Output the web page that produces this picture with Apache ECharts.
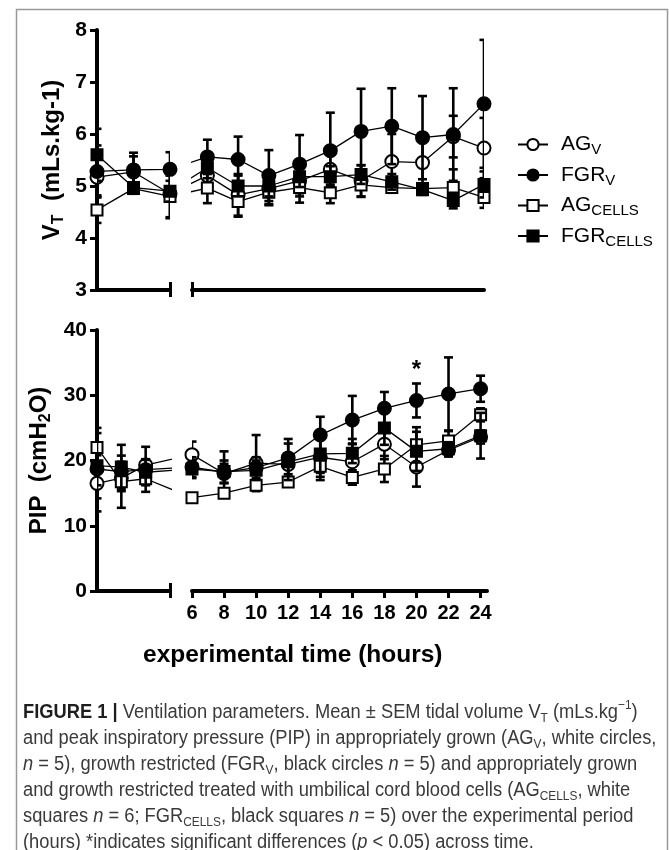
<!DOCTYPE html>
<html>
<head>
<meta charset="utf-8">
<script src="https://cdn.jsdelivr.net/npm/echarts@6/dist/echarts.min.js"></script>
<style>
  html, body { margin: 0; padding: 0; background: #fff; }
  #chart { width: 669px; height: 850px; }
</style>
</head>
<body>
<div id="chart"></div>
<script>
// three unlabelled early readings, then every 2 h from 6 to 24 h
const earlySteps = [0, 1, 2]
const hours = [6, 8, 10, 12, 14, 16, 18, 20, 22, 24]

// VT (mLs.kg-1): 3 early + 10 hourly means and SEM
const vtAGv = [5.17, 5.27, 4.85, 5.20, 4.83, 4.95, 5.10, 5.32, 5.10, 5.47, 5.45, 5.95, 5.73]
const vtAGvSem = [0.35, 0.30, 0.47, 0.25, 0.40, 0.30, 0.30, 0.30, 0.30, 0.53, 0.50, 0.40, 0.58]
const vtFGRv = [5.28, 5.31, 5.32, 5.56, 5.51, 5.20, 5.42, 5.68, 6.05, 6.15, 5.93, 5.99, 6.58]
const vtFGRvSem = [0.50, 0.33, 0.33, 0.33, 0.44, 0.49, 0.56, 0.73, 0.82, 0.73, 0.80, 0.89, 1.23]
const vtAGcells = [4.54, 4.95, 4.80, 4.96, 4.70, 4.88, 4.97, 4.87, 5.02, 4.97, 4.95, 4.97, 4.78]
const vtAGcellsSem = [0.25, 0.10, 0.40, 0.29, 0.29, 0.25, 0.29, 0.20, 0.23, 0.10, 0.10, 0.35, 0.20]
const vtFGRcells = [5.60, 4.97, 4.90, 5.35, 5.00, 5.00, 5.18, 5.18, 5.22, 5.08, 4.93, 4.72, 5.03]
const vtFGRcellsSem = [0.50, 0.10, 0.20, 0.20, 0.20, 0.20, 0.20, 0.20, 0.18, 0.15, 0.10, 0.15, 0.25]

// PIP (cmH2O)
const pipAGv = [16.5, 17.3, 19.3, 20.9, 18.0, 19.6, 19.4, 20.5, 19.8, 22.5, 19.0, 21.6, 23.6]
const pipAGvSem = [4.3, 2.0, 2.8, 2.0, 1.5, 4.3, 1.5, 3.5, 3.5, 2.3, 3.0, 1.0, 1.0]
const pipFGRv = [18.7, 18.3, 18.6, 19.0, 18.2, 18.9, 20.4, 23.9, 26.2, 28.0, 29.2, 30.2, 31.0]
const pipFGRvSem = [2.5, 1.5, 1.5, 1.5, 3.2, 1.6, 2.9, 2.8, 3.7, 2.5, 2.6, 5.6, 2.0]
const pipAGcells = [22.0, 16.75, 17.2, 14.3, 15.0, 16.2, 16.7, 19.1, 17.4, 18.7, 22.4, 23.0, 27.0]
const pipAGcellsSem = [3.0, 4.0, 2.0, 0.5, 0.5, 0.5, 0.5, 1.0, 1.1, 2.0, 2.7, 1.5, 1.0]
const pipFGRcells = [19.2, 19.0, 18.2, 18.7, 18.3, 18.5, 19.8, 21.0, 21.1, 25.0, 21.4, 21.8, 23.8]
const pipFGRcellsSem = [5.0, 3.4, 2.0, 1.4, 1.7, 1.5, 2.8, 3.5, 1.5, 2.6, 3.0, 1.0, 3.5]

// significant time point (PIP, FGRv)
const sigHours = [20]

const vtTicks = [3, 4, 5, 6, 7, 8]
const pipTicks = [0, 10, 20, 30, 40]

const groups = ['AGv', 'FGRv', 'AGcells', 'FGRcells']
const legendText = {
  AGv: '{m|AG}{s|V}',
  FGRv: '{m|FGR}{s|V}',
  AGcells: '{m|AG}{s|CELLS}',
  FGRcells: '{m|FGR}{s|CELLS}'
}
const marker = {
  AGv: { symbol: 'circle', size: 13, fill: '#fff' },
  FGRv: { symbol: 'circle', size: 13, fill: '#000' },
  AGcells: { symbol: 'rect', size: 11, fill: '#fff' },
  FGRcells: { symbol: 'rect', size: 11, fill: '#000' }
}

const captionLines = [
  '{b|FIGURE 1 |} Ventilation parameters. Mean ± SEM tidal volume V{s|T} (mLs.kg{p|−1})',
  'and peak inspiratory pressure (PIP) in appropriately grown (AG{s|V}, white circles,',
  '{i|n} = 5), growth restricted (FGR{s|V}, black circles {i|n} = 5) and appropriately grown',
  'and growth restricted treated with umbilical cord blood cells (AG{s|CELLS}, white',
  'squares {i|n} = 6; FGR{s|CELLS}, black squares {i|n} = 5) over the experimental period',
  '(hours) *indicates significant differences ({i|p} < 0.05) across time.'
]

const panels = [
  { xe: 0, xh: 1, ye: 0, yh: 1,
    means: { AGv: vtAGv, FGRv: vtFGRv, AGcells: vtAGcells, FGRcells: vtFGRcells },
    sems: { AGv: vtAGvSem, FGRv: vtFGRvSem, AGcells: vtAGcellsSem, FGRcells: vtFGRcellsSem } },
  { xe: 2, xh: 3, ye: 2, yh: 3,
    means: { AGv: pipAGv, FGRv: pipFGRv, AGcells: pipAGcells, FGRcells: pipFGRcells },
    sems: { AGv: pipAGvSem, FGRv: pipFGRvSem, AGcells: pipAGcellsSem, FGRcells: pipFGRcellsSem } }
]

const FONT = 'Liberation Sans, Arial, sans-serif'
const chart = echarts.init(document.getElementById('chart'))

function errorBars(pts, sems, xi, yi, z) {
  return {
    type: 'custom', xAxisIndex: xi, yAxisIndex: yi, z, silent: true, clip: true,
    encode: { x: 0, y: [1, 2] },
    data: pts.map(([x, v], i) => [x, v - sems[i], v + sems[i]]),
    renderItem(params, api) {
      const lo = api.coord([api.value(0), api.value(1)])
      const hi = api.coord([api.value(0), api.value(2)])
      const cap = 4.5
      const st = { stroke: '#000', lineWidth: 2.6 }
      return { type: 'group', children: [
        { type: 'line', shape: { x1: lo[0], y1: lo[1], x2: hi[0], y2: hi[1] }, style: st },
        { type: 'line', shape: { x1: lo[0] - cap, y1: lo[1], x2: lo[0] + cap, y2: lo[1] }, style: st },
        { type: 'line', shape: { x1: hi[0] - cap, y1: hi[1], x2: hi[0] + cap, y2: hi[1] }, style: st }
      ] }
    }
  }
}

function lineSeries(name, data, xi, yi, z) {
  const mk = marker[name]
  return {
    type: 'line', name, xAxisIndex: xi, yAxisIndex: yi, z, data, clip: true,
    symbol: mk.symbol, symbolSize: mk.size, showAllSymbol: true,
    itemStyle: { color: mk.fill, borderColor: '#000', borderWidth: 2 },
    lineStyle: { color: '#000', width: 1.3 },
    emphasis: { disabled: true }
  }
}

function buildSeries(bridges) {
  const out = []
  panels.forEach((p, pi) => {
    groups.forEach((g, gi) => {
      const m = p.means[g], s = p.sems[g]
      const n0 = earlySteps.length
      const earlyPts = earlySteps.map((x, i) => [x, m[i]])
      const hourPts = hours.map((h, i) => [h, m[i + n0]])
      const b = bridges ? bridges[pi] : null
      // neighbour point across the axis break, so the lines run out to the break
      const earlyData = b ? earlyPts.concat([[b.next, m[n0]]]) : earlyPts
      const hourData = b ? [[b.prev, m[n0 - 1]]].concat(hourPts) : hourPts
      const z = 10 + gi * 2
      out.push(errorBars(earlyPts, s.slice(0, n0), p.xe, p.ye, z))
      out.push(errorBars(hourPts, s.slice(n0), p.xh, p.yh, z))
      out.push(lineSeries(g, earlyData, p.xe, p.ye, z + 1))
      const hs = lineSeries(g, hourData, p.xh, p.yh, z + 1)
      if (pi === 1 && g === 'FGRv') {
        hs.markPoint = {
          symbol: 'circle', symbolSize: 1, silent: true,
          itemStyle: { color: 'rgba(0,0,0,0)' },
          label: { show: true, formatter: '*', position: 'inside', offset: [0, -13],
            color: '#000', fontSize: 24, fontWeight: 'bold', fontFamily: FONT },
          data: sigHours.map(h => {
            const i = hours.indexOf(h) + n0
            return { coord: [h, m[i] + s[i]] }
          })
        }
      }
      out.push(hs)
    })
  })
  return out
}

const axisLine = { show: true, onZero: false, lineStyle: { color: '#000', width: 4 } }
const tickStyle = { color: '#000', width: 3 }
const yLabel = { color: '#000', fontSize: 21, fontWeight: 'bold', fontFamily: FONT, margin: 10 }

// upward half of the break marks: a tick-only axis laid on the bottom edge
function breakMarks(gridIndex, min, max, values, height) {
  return { type: 'value', gridIndex, min, max, position: 'top', offset: -height,
    axisLine: { show: false }, splitLine: { show: false }, axisLabel: { show: false },
    axisTick: { customValues: values, length: 8, lineStyle: tickStyle } }
}

const nameRich = {
  b: { fontSize: 24, fontWeight: 'bold', fontFamily: FONT, color: '#000', lineHeight: 30 },
  sub: { fontSize: 16, fontWeight: 'bold', fontFamily: FONT, color: '#000', lineHeight: 20, verticalAlign: 'bottom' }
}

const capFont = 'Liberation Sans, Arial, sans-serif'
const capRich = {
  b: { fontSize: 20, fontWeight: 'bold', fontFamily: capFont, fill: '#1e1e1e', lineHeight: 26 },
  i: { fontSize: 20, fontStyle: 'italic', fontFamily: capFont, fill: '#3a3a3a', lineHeight: 26 },
  s: { fontSize: 13, fontFamily: capFont, fill: '#3a3a3a', lineHeight: 16, verticalAlign: 'bottom' },
  p: { fontSize: 13, fontFamily: capFont, fill: '#3a3a3a', lineHeight: 16, verticalAlign: 'top' }
}

const option = {
  animation: false,
  backgroundColor: '#fff',
  grid: [
    { left: 97, top: 30, width: 73, height: 260 },
    { left: 192, top: 30, width: 292, height: 260 },
    { left: 97, top: 330, width: 73, height: 261 },
    { left: 192, top: 330, width: 295, height: 261 }
  ],
  xAxis: [
    { type: 'value', gridIndex: 0, min: 0, max: 2, axisLine, splitLine: { show: false },
      axisTick: { customValues: [2], length: 7, lineStyle: tickStyle }, axisLabel: { show: false } },
    { type: 'value', gridIndex: 1, min: 5, max: 24, axisLine, splitLine: { show: false },
      axisTick: { customValues: [5], length: 7, lineStyle: tickStyle }, axisLabel: { show: false } },
    { type: 'value', gridIndex: 2, min: 0, max: 3, axisLine, splitLine: { show: false },
      axisTick: { customValues: [3], length: 7, lineStyle: tickStyle }, axisLabel: { show: false } },
    { type: 'value', gridIndex: 3, min: 6, max: 24.4, axisLine, splitLine: { show: false },
      axisTick: { customValues: hours, length: 7, lineStyle: tickStyle },
      axisLabel: { customValues: hours, color: '#000', fontSize: 20, fontWeight: 'bold', fontFamily: FONT, margin: 12 } },
    breakMarks(0, 0, 2, [2], 260),
    breakMarks(1, 5, 24, [5], 260),
    breakMarks(2, 0, 3, [3], 261)
  ],
  yAxis: [
    { type: 'value', gridIndex: 0, min: 3, max: 8, interval: 1, axisLine, splitLine: { show: false },
      axisTick: { customValues: vtTicks, length: 7, lineStyle: tickStyle },
      axisLabel: Object.assign({ customValues: vtTicks }, yLabel),
      name: '{b|V}{sub|T}{b|  (mLs.kg-1)}', nameLocation: 'middle', nameRotate: 90, nameGap: 30,
      nameTextStyle: { rich: nameRich } },
    { type: 'value', gridIndex: 1, min: 3, max: 8, show: false },
    { type: 'value', gridIndex: 2, min: 0, max: 40, interval: 10, axisLine, splitLine: { show: false },
      axisTick: { customValues: pipTicks, length: 7, lineStyle: tickStyle },
      axisLabel: Object.assign({ customValues: pipTicks }, yLabel),
      name: '{b|PIP  (cmH}{sub|2}{b|O)}', nameLocation: 'middle', nameRotate: 90, nameGap: 43,
      nameTextStyle: { rich: nameRich } },
    { type: 'value', gridIndex: 3, min: 0, max: 40, show: false }
  ],
  legend: {
    data: groups, orient: 'vertical', left: 512, top: 129,
    itemWidth: 30, itemHeight: 14, itemGap: 7, selectedMode: false,
    formatter: n => legendText[n],
    textStyle: {
      padding: [0, 0, 0, 8],
      rich: {
        m: { fontSize: 21, fontFamily: FONT, color: '#000', lineHeight: 26 },
        s: { fontSize: 15, fontFamily: FONT, color: '#000', lineHeight: 16, verticalAlign: 'bottom' }
      }
    }
  },
  title: [
    { text: 'experimental time (hours)', left: 143, top: 643, padding: 0,
      textStyle: { fontSize: 24.5, fontWeight: 'bold', fontFamily: FONT, color: '#000' } }
  ],
  graphic: [
    { type: 'rect', left: 14, top: 7, silent: true,
      shape: { width: 651, height: 870 },
      style: { fill: 'none', stroke: '#999', lineWidth: 1.5 } },
    // caption set in a condensed look: regular face squeezed horizontally
    { type: 'text', x: 23, y: 699, scaleX: 0.915, silent: true,
      style: {
        text: captionLines.join('\n'), fill: '#3a3a3a',
        fontSize: 20, fontFamily: capFont, lineHeight: 26, rich: capRich
      } }
  ],
  series: buildSeries(null)
}

chart.setOption(option)

// positions of the points on either side of the axis break, in the other segment's units
const bridges = panels.map(p => {
  const lastEarlyPx = chart.convertToPixel({ xAxisIndex: p.xe }, earlySteps[earlySteps.length - 1])
  const firstHourPx = chart.convertToPixel({ xAxisIndex: p.xh }, hours[0])
  return {
    next: chart.convertFromPixel({ xAxisIndex: p.xe }, firstHourPx),
    prev: chart.convertFromPixel({ xAxisIndex: p.xh }, lastEarlyPx)
  }
})
chart.setOption({ series: buildSeries(bridges) })
</script>
</body>
</html>
